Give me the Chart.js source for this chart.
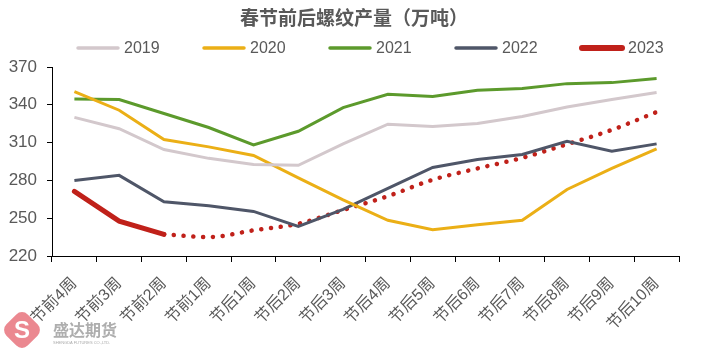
<!DOCTYPE html>
<html><head><meta charset="utf-8">
<script src="https://cdn.jsdelivr.net/npm/chart.js@4/dist/chart.umd.min.js"></script>
<style>
html,body{margin:0;padding:0;background:#fff;}
#wrap{position:relative;width:709px;height:354px;}
#logo{position:absolute;left:7px;top:315px;width:30px;height:30px;background:#e8737d;border-radius:8px;transform:rotate(45deg);opacity:0.85;}
#logoS{position:absolute;left:8px;top:315px;width:28px;height:30px;color:#fff;font:bold 24px "Liberation Sans",sans-serif;text-align:center;line-height:30px;}
#wm{position:absolute;left:53px;top:320px;color:#a0a0a0;font:bold 16px "Noto Sans CJK SC",sans-serif;line-height:18px;opacity:0.85;}
#wm2{position:absolute;left:53px;top:340px;color:#aaa;font:4px "Liberation Sans",sans-serif;}
</style></head>
<body><div id="wrap"><canvas id="c" width="709" height="354"></canvas>
<div id="logo"></div><div id="logoS">S</div>
<div id="wm">盛达期货</div><div id="wm2">SHENGDA FUTURES CO.,LTD.</div></div>
<script>
const categories = ['节前4周','节前3周','节前2周','节前1周','节后1周','节后2周','节后3周','节后4周','节后5周','节后6周','节后7周','节后8周','节后9周','节后10周'];
const s2019 = [330, 321, 304.5, 297.5, 292.7, 292, 309, 324.6, 322.8, 325.1, 330.7, 338.3, 344.2, 349.7];
const s2020 = [350.5, 335.7, 312.5, 306.6, 299.8, 282, 264.5, 248.3, 240.8, 244.8, 248.3, 272.8, 289.5, 305];
const s2021 = [344.6, 344.2, 333.1, 322, 308.2, 319, 337.8, 348.4, 346.5, 351.5, 352.9, 356.8, 357.6, 360.8];
const s2022 = [280, 284, 263, 259.9, 255.4, 243.5, 257, 273.6, 290.3, 296.6, 300.6, 311.1, 303.2, 309];
const s2023 = [271.3, 247.7, 237.2, null, null, null, null, null, null, null, null, null, null, null];
const s2023trend = [null, null, 237.2, 235, 240.4, 245.6, 256.5, 267.5, 280.5, 289.5, 297.9, 308.7, 320.1, 334.3];
const yTicks = [220, 250, 280, 310, 340, 370];
const titleText = '春节前后螺纹产量（万吨）';

const TXT = '#595959';
const FONT = '"Liberation Sans", "Noto Sans CJK SC", sans-serif';
const mk = (label, data, color, w) => ({label, data, borderColor: color, backgroundColor: color, borderWidth: w, pointRadius: 0, tension: 0, spanGaps: false});

const headerPlugin = {
  id: 'header',
  afterDraw(chart) {
    const ctx = chart.ctx;
    ctx.save();
    ctx.fillStyle = TXT;
    ctx.textAlign = 'center';
    ctx.textBaseline = 'middle';
    ctx.font = 'bold 19px ' + FONT;
    ctx.fillText(titleText, 354, 20);
    ctx.font = '16px ' + FONT;
    ctx.textAlign = 'left';
    const legendSets = chart.data.datasets.filter(d => d.label !== 'trend');
    legendSets.forEach((d, i) => {
      const x0 = 78 + 126 * i;
      ctx.strokeStyle = d.borderColor;
      ctx.lineWidth = d.label === '2023' ? 6 : 3.5;
      ctx.lineCap = 'round';
      ctx.beginPath();
      ctx.moveTo(x0, 48);
      ctx.lineTo(x0 + 40, 48);
      ctx.stroke();
      ctx.fillStyle = TXT;
      ctx.fillText(d.label, x0 + 46, 49);
    });
    ctx.restore();
  }
};

new Chart(document.getElementById('c'), {
  type: 'line',
  data: {
    labels: categories,
    datasets: [
      mk('2019', s2019, '#D3C8CC', 3),
      mk('2020', s2020, '#EBAF16', 3),
      mk('2021', s2021, '#5C9A2C', 3),
      mk('2022', s2022, '#4F5668', 3),
      Object.assign(mk('2023', s2023, '#C0211A', 5), {borderCapStyle: 'round'}),
      Object.assign(mk('trend', s2023trend, '#C0211A', 4.5), {borderDash: [0.1, 9.7], borderCapStyle: 'round', cubicInterpolationMode: 'monotone'})
    ]
  },
  plugins: [headerPlugin],
  options: {
    responsive: false,
    animation: false,
    layout: {padding: {left: 0, right: 30, top: 67, bottom: 0}},
    plugins: {
      title: {display: false},
      legend: {display: false},
      tooltip: {enabled: false}
    },
    scales: {
      y: {
        min: 220, max: 370,
        afterBuildTicks: (ax) => { ax.ticks = yTicks.map(v => ({value: v})); },
        afterFit: (ax) => { ax.width = 52; },
        border: {display: true, color: '#000', width: 1},
        grid: {display: true, drawOnChartArea: false, drawTicks: true, tickLength: 5, color: '#000'},
        ticks: {color: TXT, font: {family: FONT, size: 17}, padding: 10}
      },
      x: {
        offset: true,
        afterFit: (ax) => { ax.height = 98; },
        border: {display: true, color: '#000', width: 1},
        grid: {display: true, offset: true, drawOnChartArea: false, drawTicks: true, tickLength: 6, color: '#000'},
        ticks: {color: TXT, font: {family: FONT, size: 16}, minRotation: 45, maxRotation: 45, padding: 12, autoSkip: false}
      }
    }
  }
});
</script></body></html>
